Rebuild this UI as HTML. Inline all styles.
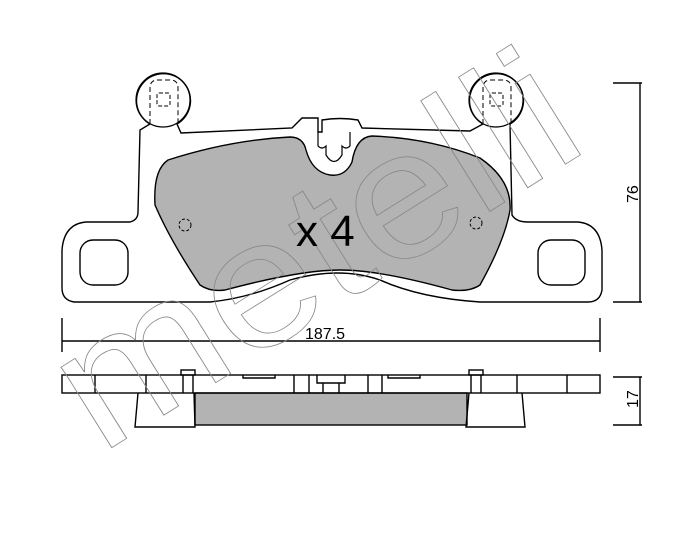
<!DOCTYPE html><html><head><style>body{margin:0;background:#fff}svg{display:block}</style></head><body>
<svg width="700" height="545" viewBox="0 0 700 545" xmlns="http://www.w3.org/2000/svg" font-family="Liberation Sans, sans-serif">
<g fill="none" stroke="#000" stroke-width="1.4">
<!-- backplate -->
<path d="M150,124 A27,27 0 1 1 177,124 L181,133 L292,128 L302,118 L318,118 L318,132 L322,132 L322,120 Q340,117 358,120 L362,128 L470,131 L483,124 A27,27 0 1 1 510,124 L512,215 Q516,222 528,222 L578,222 Q600,224 602,250 L602,290 Q600,302 588,302 L480,302 Q420,298 380,280 Q340,266 290,280 Q250,298 210,302 L74,302 Q62,300 62,288 L62,250 Q64,224 86,222 L130,222 Q138,220 138,212 L140,130 Z"/>
<circle cx="163" cy="100" r="27" stroke-width="1.2"/>
<circle cx="496" cy="100" r="27" stroke-width="1.2"/>
<path d="M150,124 L150,88 Q150,80 158,80 L170,80 Q178,80 178,88 L178,124" stroke-dasharray="5,3" stroke-width="1"/>
<path d="M483,124 L483,88 Q483,80 491,80 L503,80 Q511,80 511,88 L511,124" stroke-dasharray="5,3" stroke-width="1"/>
<rect x="157" y="93" width="13" height="13" rx="2" stroke-dasharray="4,2" stroke-width="1"/>
<rect x="490" y="93" width="13" height="13" rx="2" stroke-dasharray="4,2" stroke-width="1"/>
<!-- pad -->
<path fill="#b3b3b3" d="M168,160 Q230,140 290,137 Q303,137 306,150 Q312,172 330,175 Q345,177 352,162 Q356,137 372,136 Q430,138 480,158 Q512,180 510,210 Q505,240 480,285 Q470,292 452,290 Q380,270 340,270 Q300,270 225,290 Q210,292 200,285 Q170,240 155,205 Q153,170 168,160 Z"/>
<path d="M318,132 L318,146 Q322,150 326,146 L326,155 Q334,168 342,155 L342,146 Q346,150 350,146 L350,132" stroke-width="1.2"/>
<rect x="80" y="240" width="48" height="45" rx="13"/>
<rect x="538" y="240" width="47" height="45" rx="13"/>
<circle cx="185" cy="225" r="6" stroke-dasharray="3,2" stroke-width="1"/>
<circle cx="476" cy="223" r="6" stroke-dasharray="3,2" stroke-width="1"/>
<!-- dims -->
<path d="M613,83 L642,83 M640,83 L640,302 M613,302 L642,302"/>
<path d="M62,318 L62,352 M600,318 L600,352 M62,341 L600,341"/>
<path d="M613,377 L642,377 M640,377 L640,425 M613,425 L642,425"/>
<!-- side view -->
<rect x="195" y="393" width="272" height="32" fill="#b3b3b3"/>
<rect x="62" y="375" width="538" height="18"/>
<path d="M95,375V393 M146,375V393 M294,375V393 M309,375V393 M368,375V393 M382,375V393 M517,375V393 M567,375V393"/>
<rect x="181" y="370" width="14" height="5"/><path d="M183,375V393 M193,375V393"/>
<rect x="469" y="370" width="14" height="5"/><path d="M471,375V393 M481,375V393"/>
<path d="M243,375V378H275V375 M388,375V378H420V375 M317,375V383H345V375 M323,383V393 M339,383V393"/>
<path d="M138,393 L135,427 L195,427 L194,393 M469,393 L466,427 L525,427 L522,393"/>
</g>
<text transform="translate(100,455) rotate(-32)" font-size="180" textLength="580" lengthAdjust="spacingAndGlyphs" fill="none" stroke="#888" stroke-width="0.8">metelli</text>
<text x="296" y="246" font-size="44">x 4</text>
<text x="305" y="339" font-size="16">187.5</text>
<text transform="translate(638,203) rotate(-90)" font-size="16">76</text>
<text transform="translate(638,408) rotate(-90)" font-size="16">17</text>
</svg>
</body></html>
